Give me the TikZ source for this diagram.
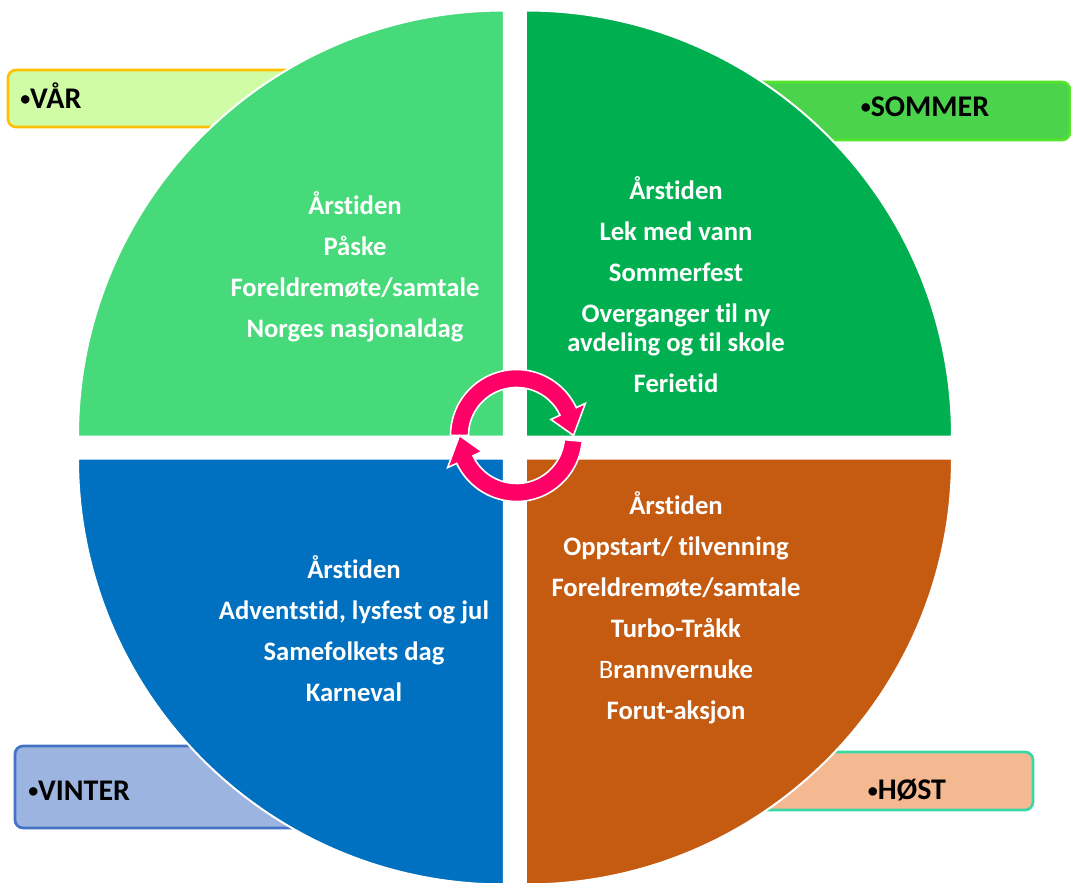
\documentclass[tikz,border=0pt]{standalone}
\usepackage{fontspec}
\setmainfont{Carlito}[Ligatures=NoCommon]
\usepackage{xcolor}
\usepackage{tikz}
\usetikzlibrary{shapes,arrows,positioning}
\definecolor{springgreen}{HTML}{47DA7A}
\definecolor{summergreen}{HTML}{00B050}
\definecolor{winterblue}{HTML}{0070C0}
\definecolor{autumnbrown}{HTML}{C55A11}
\definecolor{cyclepink}{HTML}{FF0066}
\definecolor{varfill}{HTML}{D0FCA5}
\definecolor{varline}{HTML}{FFC000}
\definecolor{sommerfill}{HTML}{4BD34B}
\definecolor{sommerline}{HTML}{52E52A}
\definecolor{vinterfill}{HTML}{9CB4E0}
\definecolor{vinterline}{HTML}{4472C4}
\definecolor{hostfill}{HTML}{F4B991}
\definecolor{hostline}{HTML}{3AD9A4}
\newcommand{\seasondot}{\raisebox{2pt}{\fontsize{15}{15}\selectfont •}}

\begin{document}
\begin{tikzpicture}[
    x=0.75pt, y=0.75pt,
    seasonbox/.style={draw, rectangle, rounded corners=6pt, line width=2pt, inner sep=0pt},
    seasonlabel/.style={font=\bfseries\fontsize{22.5}{27}\selectfont, text=black, inner sep=0pt},
    quarter/.style={draw=white, line width=1.5pt},
    events/.style={font=\bfseries\fontsize{20}{22}\selectfont, text=white, align=center, inner sep=0pt},
    cyclearrow/.style={fill=cyclepink, draw=white, line width=1.2pt, line join=miter}
]
    \useasboundingbox (-515,-434.5) rectangle (556,447.5);

    \node[seasonbox, fill=varfill, draw=varline, minimum width=230.25pt, minimum height=42.75pt] (varbox) at (-353.5,349) {};
    \node[seasonbox, fill=sommerfill, draw=sommerline, minimum width=266.25pt, minimum height=43.5pt] (sommerbox) at (377.5,336.5) {};
    \node[seasonbox, fill=vinterfill, draw=vinterline, minimum width=225pt, minimum height=61.5pt] (vinterbox) at (-350,-339.5) {};
    \node[seasonbox, fill=hostfill, draw=hostline, minimum width=238.5pt, minimum height=43.5pt] (hostbox) at (359,-333.5) {};

    \fill[quarter, fill=springgreen] (-11,11) -- (-437,11) arc[start angle=180, end angle=90, radius=426] -- cycle;
    \fill[quarter, fill=summergreen] (11,11) -- (11,437) arc[start angle=90, end angle=0, radius=426] -- cycle;
    \fill[quarter, fill=autumnbrown] (11,-11) -- (437,-11) arc[start angle=0, end angle=-90, radius=426] -- cycle;
    \fill[quarter, fill=winterblue] (-11,-11) -- (-11,-437) arc[start angle=270, end angle=180, radius=426] -- cycle;

    \node[seasonlabel, anchor=west] (var) at (-495,352) {\seasondot VÅR};
    \node[seasonlabel] (sommer) at (410,341) {\seasondot SOMMER};
    \node[seasonlabel, anchor=west] (vinter) at (-487,-343) {\seasondot VINTER};
    \node[seasonlabel] (host) at (392,-343) {\seasondot HØST};

    \node[events] (varliste) at (-160,181) {Årstiden\\[8.75pt] Påske\\[8.75pt] Foreldremøte/samtale\\[8.75pt] Norges nasjonaldag};
    \node[events] (sommerliste) at (161,163) {Årstiden\\[8.75pt] Lek med vann\\[8.75pt] Sommerfest\\[8.75pt] Overganger til ny\\ avdeling og til skole\\[8.75pt] Ferietid};
    \node[events] (vinterliste) at (-161,-181) {Årstiden\\[8.75pt] Adventstid, lysfest og jul\\[8.75pt] Samefolkets dag\\[8.75pt] Karneval};
    \node[events] (hostliste) at (161,-160) {Årstiden\\[8.75pt] Oppstart/ tilvenning\\[8.75pt] Foreldremøte/samtale\\[8.75pt] Turbo-Tråkk\\[8.75pt] {\mdseries B}rannvernuke\\[8.75pt] Forut-aksjon};

    \begin{scope}[shift={(1.5,12)}]
        \filldraw[cyclearrow] (180:66) arc[start angle=180, end angle=25, radius=66] -- (25:76) -- (0:57) -- (25:38) -- (25:48) arc[start angle=25, end angle=180, radius=48] -- cycle;
        \filldraw[cyclearrow] (-5:66) arc[start angle=-5, end angle=-155, radius=66] -- (-155:76) -- (-180:57) -- (-155:38) -- (-155:48) arc[start angle=-155, end angle=-5, radius=48] -- cycle;
    \end{scope}
\end{tikzpicture}
\end{document}
